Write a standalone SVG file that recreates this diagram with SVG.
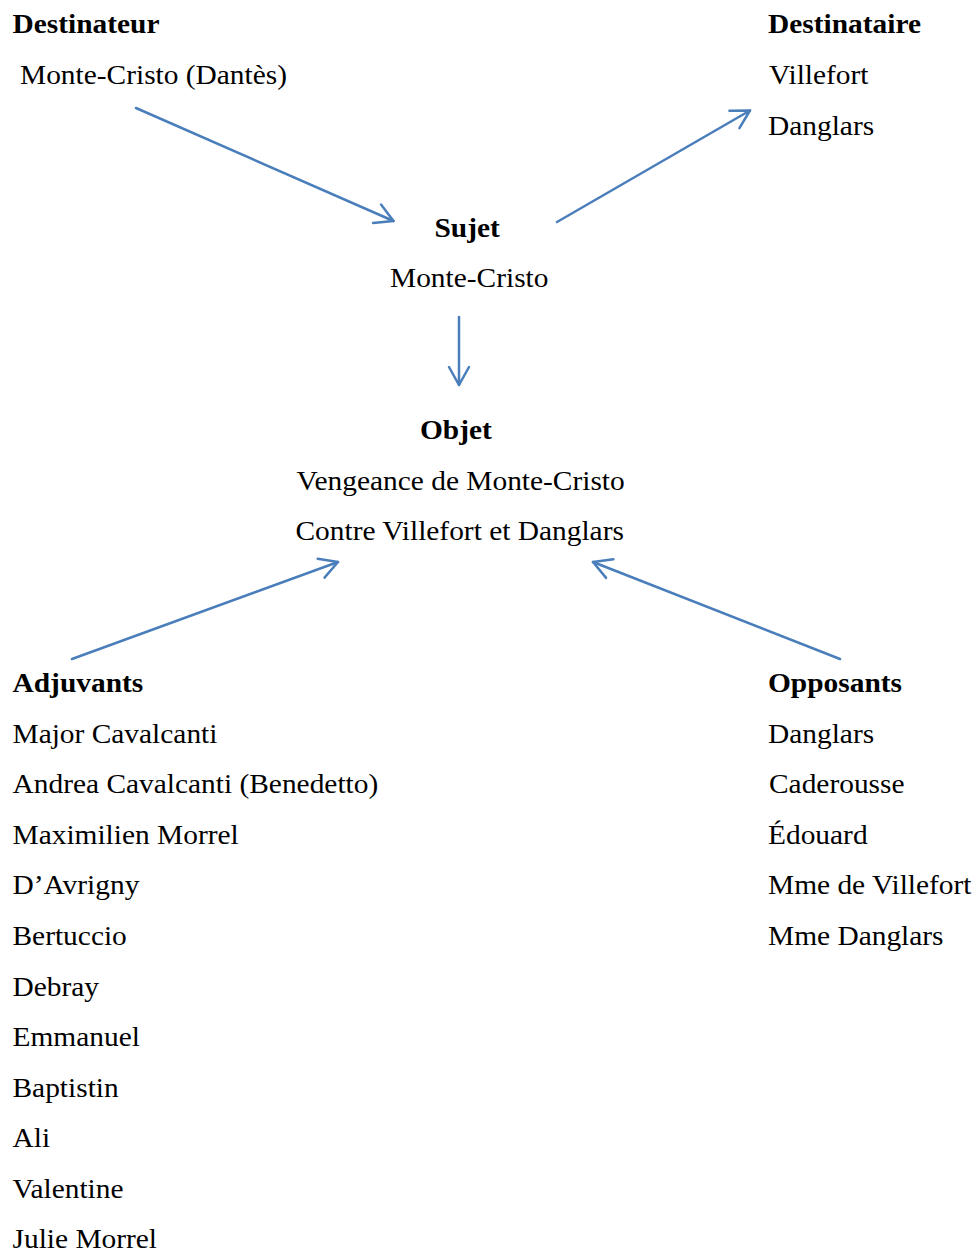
<svg xmlns="http://www.w3.org/2000/svg" width="977" height="1251" viewBox="0 0 977 1251">
  <style>
    text { font-family: "Liberation Serif", "Times New Roman", serif; font-size: 26.5px; fill: #000; }
    .h { font-weight: bold; }
    .link { fill: none; stroke: #4a7ebb; stroke-width: 2.5; stroke-linecap: round; marker-end: url(#arrow); }
  </style>
  <defs>
    <marker id="arrow" markerUnits="userSpaceOnUse" orient="auto" refX="0" refY="0" markerWidth="40" markerHeight="40" viewBox="-20 -20 40 40" overflow="visible">
      <path d="M-18,-10 L0,0 L-18,10" fill="none" stroke="#4a7ebb" stroke-width="2.5" stroke-linecap="round" stroke-linejoin="round"/>
    </marker>
  </defs>
  <rect width="977" height="1251" fill="#fff"/>

  <!-- actantial roles -->
  <g id="destinateur">
    <text class="h" transform="translate(12.5,33) scale(1.11,1)">Destinateur</text>
    <text transform="translate(20,84) scale(1.11,1)">Monte-Cristo (Dantès)</text>
  </g>

  <g id="destinataire">
    <text class="h" transform="translate(768,33) scale(1.11,1)">Destinataire</text>
    <text transform="translate(769,84) scale(1.11,1)">Villefort</text>
    <text transform="translate(768,134.5) scale(1.11,1)">Danglars</text>
  </g>

  <g id="sujet">
    <text class="h" transform="translate(434.5,237) scale(1.11,1)">Sujet</text>
    <text transform="translate(390,287) scale(1.11,1)">Monte-Cristo</text>
  </g>

  <g id="objet">
    <text class="h" transform="translate(420,438.5) scale(1.11,1)">Objet</text>
    <text transform="translate(296.5,489.5) scale(1.11,1)">Vengeance de Monte-Cristo</text>
    <text transform="translate(295.5,540) scale(1.11,1)">Contre Villefort et Danglars</text>
  </g>

  <g id="adjuvants">
    <text class="h" transform="translate(12.5,692) scale(1.11,1)">Adjuvants</text>
    <text transform="translate(12.5,742.5) scale(1.11,1)">Major Cavalcanti</text>
    <text transform="translate(12.5,793) scale(1.11,1)">Andrea Cavalcanti (Benedetto)</text>
    <text transform="translate(12.5,843.5) scale(1.11,1)">Maximilien Morrel</text>
    <text transform="translate(12.5,894) scale(1.11,1)">D’Avrigny</text>
    <text transform="translate(12.5,945) scale(1.11,1)">Bertuccio</text>
    <text transform="translate(12.5,995.5) scale(1.11,1)">Debray</text>
    <text transform="translate(12.5,1046) scale(1.11,1)">Emmanuel</text>
    <text transform="translate(12.5,1096.5) scale(1.11,1)">Baptistin</text>
    <text transform="translate(12.5,1147) scale(1.11,1)">Ali</text>
    <text transform="translate(12.5,1197.5) scale(1.11,1)">Valentine</text>
    <text transform="translate(12.5,1248) scale(1.11,1)">Julie Morrel</text>
  </g>

  <g id="opposants">
    <text class="h" transform="translate(768,692) scale(1.11,1)">Opposants</text>
    <text transform="translate(768,742.5) scale(1.11,1)">Danglars</text>
    <text transform="translate(769,793) scale(1.11,1)">Caderousse</text>
    <text transform="translate(768,843.5) scale(1.11,1)">Édouard</text>
    <text transform="translate(768,894) scale(1.11,1)">Mme de Villefort</text>
    <text transform="translate(768,945) scale(1.11,1)">Mme Danglars</text>
  </g>

  <!-- connectors -->
  <g id="connectors">
    <line class="link" x1="136" y1="108" x2="393.5" y2="221"/>
    <line class="link" x1="557" y1="222" x2="750" y2="110.5"/>
    <line class="link" x1="459" y1="317" x2="459" y2="385"/>
    <line class="link" x1="72" y1="659" x2="338" y2="562"/>
    <line class="link" x1="840" y1="659" x2="593" y2="562"/>
  </g>
</svg>
